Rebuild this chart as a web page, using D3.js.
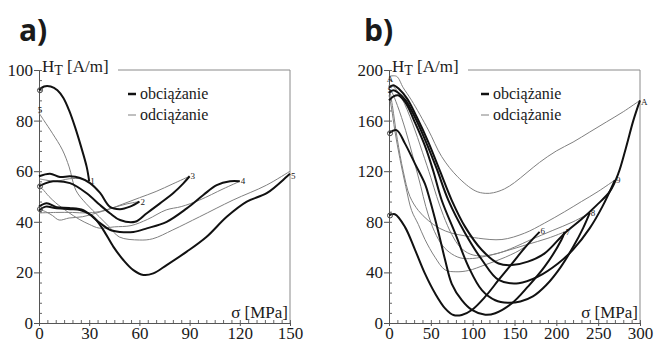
<!DOCTYPE html>
<html>
<head>
<meta charset="utf-8">
<script src="https://cdn.jsdelivr.net/npm/d3@7"></script>
<style>
  body { margin: 0; background: #fff; }
  text { font-family: "Liberation Serif", "Times New Roman", serif; fill: #1a1a1a; }
  .panel-label { font-family: "Open Sans", "DejaVu Sans", sans-serif; font-weight: 700; font-size: 30px; }
  .tick text { font-size: 17px; font-family: "Liberation Serif", serif; }
  .load { fill: none; stroke: #111; stroke-width: 2; }
  .unload { fill: none; stroke: #808080; stroke-width: 1; }
</style>
</head>
<body>
<svg id="chart" width="655" height="345"></svg>
<script>
// legend entries
const legendLabels = ['obciążanie', 'odciążanie'];

// panel a) loading curves [sigma MPa, H_T A/m]
const aLoad1 = [[0, 92], [3, 93.5], [7, 93.5], [11, 92], [14.5, 89], [18, 84], [21.5, 77.5], [25, 70], [28.5, 61.7], [30, 56]];
const aLoad2 = [[0, 58], [6.6, 59], [12.5, 57.7], [18.5, 58], [24.5, 57.3], [30.5, 55.3], [36.5, 51.4], [42.4, 45.9], [48.4, 45], [54.4, 46], [60, 48]];
const aLoad3 = [[0, 54], [3, 55], [8.4, 56], [18.5, 55.3], [28.5, 51.3], [36.5, 46.6], [42.4, 43.4], [48.4, 40.7], [57.4, 40], [64.4, 43.4], [72.3, 47.3], [80.3, 51.4], [86, 55], [90, 58]];
const aLoad4 = [[0, 46], [4.6, 47.3], [10.5, 45.8], [18, 45.5], [26.5, 44.6], [36.5, 39.5], [42.4, 36.8], [48.4, 36], [56.4, 36], [64.4, 37.4], [76.3, 40], [88.3, 45.3], [98.2, 50.6], [106.2, 54.5], [114.2, 56], [120, 56]];
const aLoad5 = [[0, 44.5], [4, 46], [9.5, 45.5], [18.5, 45], [24.5, 44.6], [32.4, 42], [38.4, 36.8], [44.4, 30.2], [50.4, 24.9], [56.4, 20.9], [62.4, 19], [68.3, 19.6], [76.3, 22.9], [88.3, 28.2], [100.2, 34.1], [112.2, 42], [124.2, 48], [136.1, 51.3], [148, 57.8], [150, 59]];

// panel a) unloading curves
const aUnload1 = [[30, 56], [25, 57], [18, 57], [10, 56], [4, 56.5], [0, 57]];
const aUnload2 = [[60, 48], [52, 47], [44, 45.5], [36, 44], [28, 43.5], [20, 43.7], [10, 43.7], [0, 43.5]];
const aUnload3 = [[90, 58], [80, 55], [70, 52], [60, 49.5], [50, 47], [42, 45], [34, 43.4], [26, 42], [18, 41.5], [12, 40.7], [8, 42.5], [4, 44], [0, 45]];
const aUnload4 = [[120, 56], [110, 53], [96, 48.6], [85, 46], [76, 44.7], [65, 41], [55, 38.5], [45, 38], [36, 37.5], [30, 39], [24, 41], [17, 44], [10, 47.5], [6, 50], [2, 53], [0, 54]];
const aUnload5 = [[150, 60], [136, 54.5], [116, 48.6], [96, 42], [80, 36.8], [68, 33.3], [60, 32.8], [48, 34], [42, 38], [36, 42], [28, 47.3], [22, 52.5], [18, 61.7], [14, 68.4], [8, 75], [3, 80], [0, 83]];

// panel b) loading curves
const bLoad1 = [[0, 85], [7, 86], [19, 76], [31, 58], [43, 39], [55, 23.5], [67, 11.6], [77, 6.3], [87, 6.3], [99, 10.3], [115, 20.8], [131, 34], [147, 47], [163, 60], [180, 72]];
const bLoad2 = [[0, 150], [9, 152.5], [19, 142], [31, 126], [43, 110], [49, 97], [59, 72], [67, 50], [75, 31], [87, 18], [99, 10.3], [115, 6.5], [127, 7.7], [147, 15.6], [166, 28.7], [186, 44.5], [206, 65.6], [210, 72]];
const bLoad3 = [[0, 176], [5, 179], [11, 180], [20, 174], [30, 160], [43, 140], [53, 120], [63, 97], [79, 71], [95, 44.5], [111, 26], [127, 18], [142, 16], [157, 17], [172, 21], [188, 30], [205, 44], [220, 60], [232, 75], [240, 87]];
const bLoad4 = [[0, 182], [5, 184], [11, 182], [20, 176], [30, 164], [43, 145], [57, 122], [71, 97], [91, 71], [111, 50], [131, 34], [155, 31.4], [178, 36.6], [202, 47], [220, 58], [240, 75], [255, 92], [270, 113]];
const bLoad5 = [[0, 186], [5, 188], [12, 185], [22, 177], [33, 163], [47, 143], [61, 120], [75, 97], [91, 76], [111, 57.7], [131, 47], [147, 45.8], [166, 48.5], [186, 55], [210, 71], [230, 82], [248, 93], [264, 104], [274, 118], [283, 138], [292, 160], [300, 176]];

// panel b) unloading curves
const bUnload1 = [[180, 72], [162, 60], [139, 52], [115, 46], [95, 41.5], [80, 40.5], [67, 42], [55, 52], [43, 66], [35, 78], [27, 89], [20, 108], [13, 130], [7, 152], [3, 170], [0, 180]];
const bUnload2 = [[210, 72], [190, 67], [165, 62], [140, 57], [120, 53.5], [100, 51], [85, 51.5], [72, 56], [62, 63], [52, 76], [44, 92], [38, 108], [30, 128], [20, 152], [10, 172], [3, 183], [0, 185]];
const bUnload3 = [[240, 87], [220, 80], [195, 73], [170, 66], [150, 60], [130, 55], [112, 53], [97, 54.5], [85, 60], [75, 70], [65, 85], [57, 100], [50, 115], [40, 135], [28, 158], [15, 178], [5, 187], [0, 188]];
const bUnload4 = [[270, 113], [250, 104], [230, 96], [210, 88], [186, 79], [162, 71], [135, 66], [107, 67], [90, 69], [75, 71], [60, 75], [47, 81], [35, 89], [25, 100], [17, 120], [10, 145], [4, 172], [0, 188]];
const bUnload5 = [[300, 176], [280, 167], [260, 159], [240, 151], [220, 143], [200, 136], [180, 127], [165, 119], [150, 111], [138, 106], [125, 103], [115, 102.5], [103, 104.5], [82, 115.6], [63, 131.5], [47, 152.6], [27, 176], [17, 186], [9, 195], [0, 195]];

// small end-point markers [sigma, H, glyph]
const aMarks = [[30, 56, '1'], [60, 48, '2'], [90, 58, '3'], [120, 56, '4'], [150, 58, '5'], [0, 84, '5'], [0, 92, 'o'], [0, 45, 'o'], [0, 54, 'o']];
const bMarks = [[180, 73, '6'], [210, 72, '7'], [240, 87, '8'], [270, 113, '9'], [300, 175, 'A'], [0, 193, 'A'], [0, 184, 'S'], [0, 150, 'o'], [0, 85, 'o']];

// tick values
const aTicksX = [0, 30, 60, 90, 120, 150];
const aTicksY = [0, 20, 40, 60, 80, 100];
const bTicksX = [0, 50, 100, 150, 200, 250, 300];
const bTicksY = [0, 40, 80, 120, 160, 200];

const svg = d3.select('#chart');
const line = d3.line().curve(d3.curveCatmullRom.alpha(0.5));

function drawPanel(cfg) {
    const x = d3.scaleLinear().domain(cfg.xDomain).range([cfg.left, cfg.right]);
    const y = d3.scaleLinear().domain(cfg.yDomain).range([cfg.bottom, cfg.top]);
    const g = svg.append('g');

    // frame (top and right), light gray
    g.append('path')
        .attr('d', `M${cfg.frameStart},${cfg.top}H${cfg.right}V${cfg.bottom}`)
        .attr('fill', 'none').attr('stroke', '#8a8a8a').attr('stroke-width', 1);

    // minor ticks
    g.append('g')
        .attr('transform', `translate(${cfg.left},0)`)
        .call(d3.axisRight(y).tickValues(d3.range(cfg.yDomain[0], cfg.yDomain[1] + 0.001, cfg.yMinor)).tickSize(3).tickFormat(''))
        .call(s => s.select('.domain').remove())
        .selectAll('line').attr('stroke', '#666');
    g.append('g')
        .attr('transform', `translate(0,${cfg.bottom})`)
        .call(d3.axisTop(x).tickValues(d3.range(cfg.xDomain[0], cfg.xDomain[1] + 0.001, cfg.xMinor)).tickSize(3).tickFormat(''))
        .call(s => s.select('.domain').remove())
        .selectAll('line').attr('stroke', '#666');

    // major axes
    const ya = g.append('g')
        .attr('transform', `translate(${cfg.left},0)`)
        .call(d3.axisLeft(y).tickValues(cfg.yTicks).tickSize(5).tickSizeOuter(0).tickPadding(1));
    const xa = g.append('g')
        .attr('transform', `translate(0,${cfg.bottom})`)
        .call(d3.axisBottom(x).tickValues(cfg.xTicks).tickSize(3).tickSizeOuter(0).tickPadding(1));
    [ya, xa].forEach(a => {
        a.attr('font-family', null).attr('font-size', null);
        a.select('.domain').attr('stroke', '#555');
        a.selectAll('.tick line').attr('stroke', '#555');
    });
    xa.selectAll('.tick text').attr('dy', '0.68em');

    // curves
    cfg.unload.forEach(d => g.append('path').datum(d).attr('class', 'unload')
        .attr('d', line.x(p => x(p[0])).y(p => y(p[1]))));
    cfg.load.forEach(d => g.append('path').datum(d).attr('class', 'load')
        .attr('d', line.x(p => x(p[0])).y(p => y(p[1]))));

    // markers
    cfg.marks.forEach(m => {
        if (m[2] === 'o') {
            g.append('circle').attr('cx', x(m[0]) + 1).attr('cy', y(m[1]))
                .attr('r', 2.5).attr('fill', 'none').attr('stroke', '#444').attr('stroke-width', 1);
        } else {
            g.append('text').attr('x', x(m[0]) + 1).attr('y', y(m[1]) + 3)
                .attr('text-anchor', m[0] === 0 ? 'middle' : 'start')
                .attr('font-size', 9).attr('fill', '#333').text(m[2]);
        }
    });

    // panel label
    svg.append('text').attr('class', 'panel-label')
        .attr('x', cfg.labelX).attr('y', 41).text(cfg.label);

    // axis titles
    const t = g.append('text').attr('x', cfg.left + 3).attr('y', cfg.top + 2).attr('font-size', 17);
    t.append('tspan').text('H');
    t.append('tspan').attr('font-size', 14).attr('dy', 3).text('T');
    t.append('tspan').attr('dy', -3).text(' [A/m]');

    g.append('text').attr('x', cfg.right - 2).attr('y', cfg.bottom - 5)
        .attr('text-anchor', 'end').attr('font-size', 17).text('σ [MPa]');

    // legend
    legendLabels.forEach((lab, i) => {
        const ly = 94 + i * 21;
        g.append('line')
            .attr('x1', cfg.legendX).attr('x2', cfg.legendX + 8)
            .attr('y1', ly).attr('y2', ly)
            .attr('stroke', i === 0 ? '#111' : '#808080')
            .attr('stroke-width', i === 0 ? 2.5 : 1);
        g.append('text').attr('x', cfg.legendX + 12).attr('y', ly + 5)
            .attr('font-size', 16).text(lab);
    });
}

drawPanel({
    label: 'a)', labelX: 19,
    xDomain: [0, 150], yDomain: [0, 100],
    left: 39, right: 290, top: 70, bottom: 323, frameStart: 118,
    xTicks: aTicksX, yTicks: aTicksY, xMinor: 5, yMinor: 4,
    legendX: 128,
    load: [aLoad1, aLoad2, aLoad3, aLoad4, aLoad5],
    unload: [aUnload1, aUnload2, aUnload3, aUnload4, aUnload5],
    marks: aMarks
});

drawPanel({
    label: 'b)', labelX: 364,
    xDomain: [0, 300], yDomain: [0, 200],
    left: 389, right: 640, top: 70, bottom: 323, frameStart: 468,
    xTicks: bTicksX, yTicks: bTicksY, xMinor: 10, yMinor: 8,
    legendX: 481,
    load: [bLoad1, bLoad2, bLoad3, bLoad4, bLoad5],
    unload: [bUnload1, bUnload2, bUnload3, bUnload4, bUnload5],
    marks: bMarks
});
</script>
</body>
</html>
